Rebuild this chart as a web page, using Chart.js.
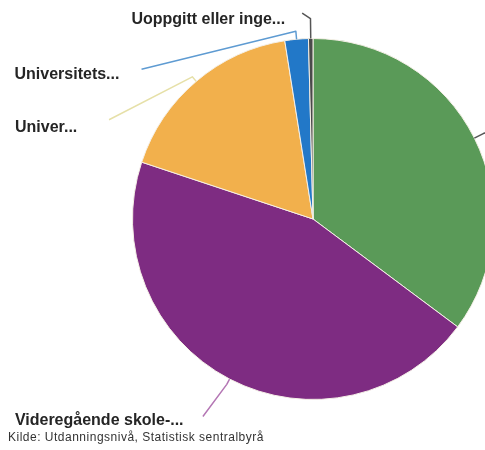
<!DOCTYPE html>
<html>
<head>
<meta charset="utf-8">
<script src="https://cdn.jsdelivr.net/npm/chart.js@4"></script>
<style>
  body { margin: 0; background: #fff; overflow: hidden; }
  #wrap { position: relative; width: 500px; height: 450px; }
  #source {
    position: absolute; left: 8px; top: 430px; letter-spacing: 0.5px;
    font: 12px "Liberation Sans", Arial, sans-serif; color: #333;
  }
</style>
</head>
<body>
<div id="wrap">
  <canvas id="myChart" width="500" height="450"></canvas>
  <div id="source">Kilde: Utdanningsnivå, Statistisk sentralbyrå</div>
</div>
<script>
// Data (share of population by education level, %)
const labels = ["Grunnskole...", "Videregående skole-...", "Univer...", "Universitets...", "Uoppgitt eller inge..."];
const values = [35.2, 44.9, 17.4, 2.1, 0.4];
const colors = ["#5a9a58", "#7e2c82", "#f2b04c", "#2278c8", "#4a4a4a"];
const lineColors = ["#555555", "#b476b4", "#e6e0a8", "#5e9bd2", "#555555"];

// Leader line placement per slice: extra radius for the elbow, line end relative to centre (in radii),
// text offset from the line end (px)
const placement = [
  { elbow: 10, end: [1.09, -0.52], text: [6, 3], align: "left" },
  { elbow: 6, end: [-0.61, 1.094], text: [-188, 4], align: "left" },
  { elbow: 6, end: [-1.13, -0.55], text: [-94, 8], align: "left" },
  { elbow: 8, end: [-0.95, -0.83], text: [-127, 5], align: "left" },
  { elbow: 20, end: [-0.06, -1.14], text: [-17, 6], align: "right" }
];

const leaderLabels = {
  id: "leaderLabels",
  afterDatasetsDraw(chart) {
    const ctx = chart.ctx;
    const arcs = chart.getDatasetMeta(0).data;
    ctx.save();
    ctx.font = "bold 16px 'Liberation Sans', Arial, sans-serif";
    ctx.textBaseline = "middle";
    arcs.forEach((arc, i) => {
      const p = placement[i];
      const mid = (arc.startAngle + arc.endAngle) / 2;
      const r = arc.outerRadius;
      const x0 = arc.x + Math.cos(mid) * r;
      const y0 = arc.y + Math.sin(mid) * r;
      const x1 = arc.x + Math.cos(mid) * (r + p.elbow);
      const y1 = arc.y + Math.sin(mid) * (r + p.elbow);
      const x2 = arc.x + p.end[0] * r;
      const y2 = arc.y + p.end[1] * r;
      ctx.strokeStyle = lineColors[i];
      ctx.lineWidth = 1.5;
      ctx.lineJoin = "round";
      ctx.beginPath();
      ctx.moveTo(x0, y0);
      ctx.lineTo(x1, y1);
      ctx.lineTo(x2, y2);
      ctx.stroke();
      ctx.fillStyle = "#252525";
      ctx.textAlign = p.align;
      ctx.fillText(labels[i], x2 + p.text[0], y2 + p.text[1]);
    });
    ctx.restore();
  }
};

new Chart(document.getElementById("myChart"), {
  type: "pie",
  data: {
    labels: labels,
    datasets: [{
      data: values,
      backgroundColor: colors,
      borderColor: "#f4efe6",
      borderWidth: 1
    }]
  },
  options: {
    responsive: false,
    animation: false,
    layout: { padding: { left: 132, right: 6, top: 38, bottom: 50 } },
    plugins: {
      legend: { display: false },
      tooltip: { enabled: false }
    }
  },
  plugins: [leaderLabels]
});
</script>
</body>
</html>
